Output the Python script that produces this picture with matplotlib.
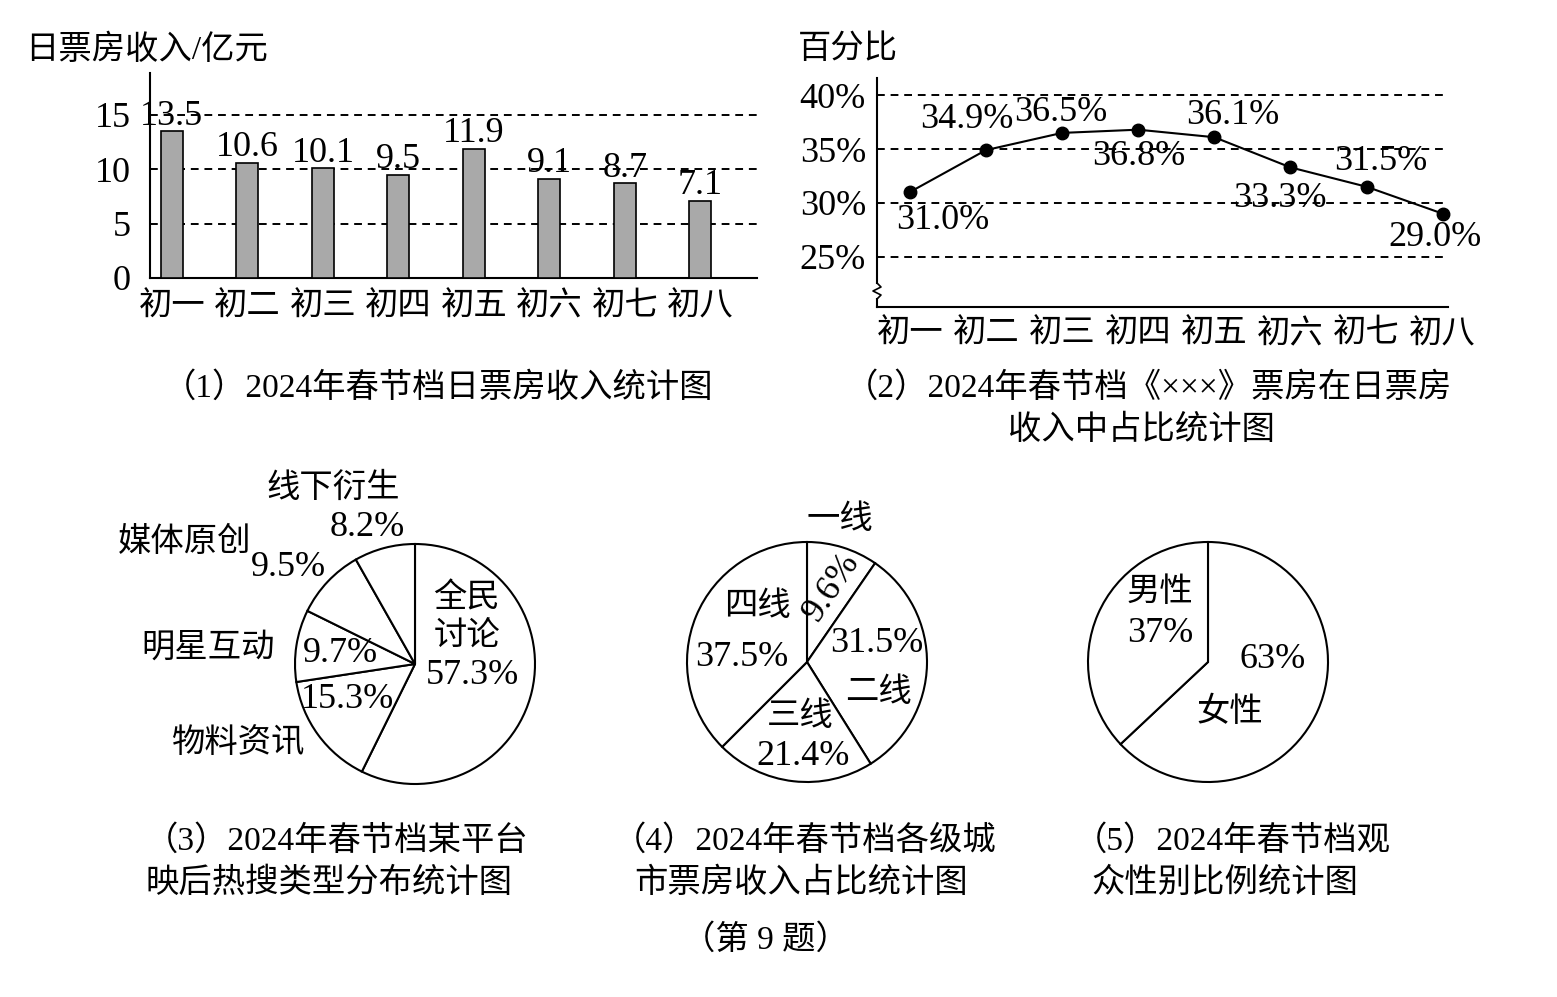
import matplotlib
matplotlib.use("Agg")
import matplotlib.pyplot as plt

plt.rcParams["font.family"] = ["Liberation Serif", "Noto Sans CJK SC"]
plt.rcParams["font.size"] = 24

W, H = 1557, 997
NUM_SIZE = 26  # numbers are set a little larger than the Chinese text

# ------------------- Data ----------------------

DAYS = ["初一", "初二", "初三", "初四", "初五", "初六", "初七", "初八"]
BOX_OFFICE = [13.5, 10.6, 10.1, 9.5, 11.9, 9.1, 8.7, 7.1]  # 亿元
BOX_TICKS = [0, 5, 10, 15]
SHARE = [31.0, 34.9, 36.5, 36.8, 36.1, 33.3, 31.5, 29.0]  # %
SHARE_TICKS = [25, 30, 35, 40]

SEARCH_LABELS = ["全民\n讨论", "物料资讯", "明星互动", "媒体原创", "线下衍生"]
SEARCH_SHARE = [57.3, 15.3, 9.7, 9.5, 8.2]
CITY_LABELS = ["一线", "二线", "三线", "四线"]
CITY_SHARE = [9.6, 31.5, 21.4, 37.5]
GENDER_LABELS = ["女性", "男性"]
GENDER_SHARE = [63, 37]

# ------------------- Layout (pixels) ----------------------

# label offsets for the line chart, in pixels from each point
SHARE_OFFSETS = [(33, -28), (-19, 31), (-1, 20), (1, -27), (18, 22), (-11, -31), (14, 25), (-8, -24)]

# (name xy, percent xy) in figure pixels for each pie slice
SEARCH_POS = [((467, 618), (472, 675)), ((238, 743), (347, 700)), ((208, 648), (340, 653)),
              ((185, 542), (288, 568)), ((333, 488), (367, 528))]
CITY_POS = [((840, 520), (832, 587)), ((878, 693), (877, 643)), ((800, 717), (803, 756)),
            ((757, 607), (742, 658))]
GENDER_POS = [((1230, 712), (1273, 659)), ((1160, 593), (1160, 633))]

fig = plt.figure(figsize=(W / 100, H / 100), dpi=100)
fig.patch.set_facecolor("white")


def px_axes(left, top, right, bottom):
    return fig.add_axes([left / W, 1 - bottom / H, (right - left) / W, (bottom - top) / H])


def fig_text(x, y, s, **kw):
    fig.text(x / W, 1 - y / H, s, ha=kw.pop("ha", "center"), va="center", **kw)


def clean_axes(ax):
    ax.spines[["top", "right"]].set_visible(False)
    ax.spines[["left", "bottom"]].set_linewidth(1.5)
    ax.tick_params(length=0)
    ax.tick_params(axis="y", labelsize=NUM_SIZE)


DASH = (0, (4, 3))

# (1) bar chart
ax1 = px_axes(150, 73, 757, 278)
xs = list(range(len(DAYS)))
bars = ax1.bar(xs, BOX_OFFICE, width=0.29, color="#a9a9a9", edgecolor="black",
               linewidth=1.2, zorder=3)
for v in BOX_TICKS[1:]:
    ax1.axhline(v, color="black", lw=1.4, ls=DASH, zorder=1)
ax1.bar_label(bars, labels=[f"{v}" for v in BOX_OFFICE], padding=-1, fontsize=NUM_SIZE, zorder=4)
ax1.set_xlim(-0.29, 7.75)
ax1.set_ylim(0, 18.86)
ax1.set_yticks(BOX_TICKS)
ax1.set_xticks(xs, DAYS)
clean_axes(ax1)
ax1.tick_params(axis="y", pad=14)
ax1.tick_params(axis="x", pad=10)
fig_text(25, 50, "日票房收入/亿元", ha="left")
fig_text(438, 388, "（1）2024年春节档日票房收入统计图")

# (2) line chart
ax2 = px_axes(877, 78, 1448, 307)
ax2.plot(xs, SHARE, color="black", lw=1.5, marker="o", ms=9, clip_on=False, zorder=3)
for v in SHARE_TICKS:
    ax2.axhline(v, color="black", lw=1.4, ls=DASH, zorder=1)
for x, v, off in zip(xs, SHARE, SHARE_OFFSETS):
    ax2.annotate(f"{v:.1f}%", (x, v), xytext=off, textcoords="offset pixels",
                 ha="center", va="center", fontsize=NUM_SIZE, zorder=4)
ax2.set_xlim(-0.43, 7.07)
ax2.set_ylim(20.33, 41.6)
ax2.set_yticks(SHARE_TICKS, [f"{v}%" for v in SHARE_TICKS])
ax2.set_xticks(xs, DAYS)
clean_axes(ax2)
ax2.spines["left"].set_visible(False)
ax2.tick_params(axis="y", pad=8)
ax2.tick_params(axis="x", pad=9)
# y axis with a break near the bottom
h2, w2 = 229.0, 571.0
yb = [(307 - y) / h2 for y in (283, 287, 291, 295, 299)]
xb = [dx / w2 for dx in (0, 4, -4, 4, 0)]
ax2.plot([0, 0], [1, yb[0]], color="black", lw=1.5, transform=ax2.transAxes, clip_on=False)
ax2.plot(xb, yb, color="black", lw=1.2, transform=ax2.transAxes, clip_on=False)
ax2.plot([0, 0], [yb[-1], 0], color="black", lw=1.5, transform=ax2.transAxes, clip_on=False)
fig_text(798, 50, "百分比", ha="left")
fig_text(1148, 388, "（2）2024年春节档《×××》票房在日票房")
fig_text(1141, 430, "收入中占比统计图")

# pies
R = 120


def draw_pie(cx, cy, values, names, positions, pct_fmt="{:.1f}%", pct_rot=None):
    half = R + 2
    ax = px_axes(cx - half, cy - half, cx + half, cy + half)
    ax.pie(values, startangle=90, counterclock=False, colors=["white"] * len(values),
           wedgeprops=dict(edgecolor="black", linewidth=1.5))
    lim = half / R
    ax.set_xlim(-lim, lim)
    ax.set_ylim(-lim, lim)
    for i, (v, name, (npos, ppos)) in enumerate(zip(values, names, positions)):
        ax.text((npos[0] - cx) / R, (cy - npos[1]) / R, name, ha="center", va="center",
                linespacing=1.3, clip_on=False)
        rot = pct_rot[i] if pct_rot else 0
        ax.text((ppos[0] - cx) / R, (cy - ppos[1]) / R, pct_fmt.format(v), ha="center",
                va="center", rotation=rot, fontsize=NUM_SIZE, clip_on=False)
    return ax


draw_pie(415, 664, SEARCH_SHARE, SEARCH_LABELS, SEARCH_POS)
draw_pie(807, 662, CITY_SHARE, CITY_LABELS, CITY_POS, pct_rot=[56, 0, 0, 0])
draw_pie(1208, 662, GENDER_SHARE, GENDER_LABELS, GENDER_POS, pct_fmt="{}%")

fig_text(145, 841, "（3）2024年春节档某平台", ha="left")
fig_text(145, 883, "映后热搜类型分布统计图", ha="left")
fig_text(805, 841, "（4）2024年春节档各级城")
fig_text(801, 883, "市票房收入占比统计图")
fig_text(1232, 841, "（5）2024年春节档观")
fig_text(1225, 883, "众性别比例统计图")
fig_text(765, 940, "（第 9 题）")

fig.savefig("out.png", dpi=100, facecolor="white")
